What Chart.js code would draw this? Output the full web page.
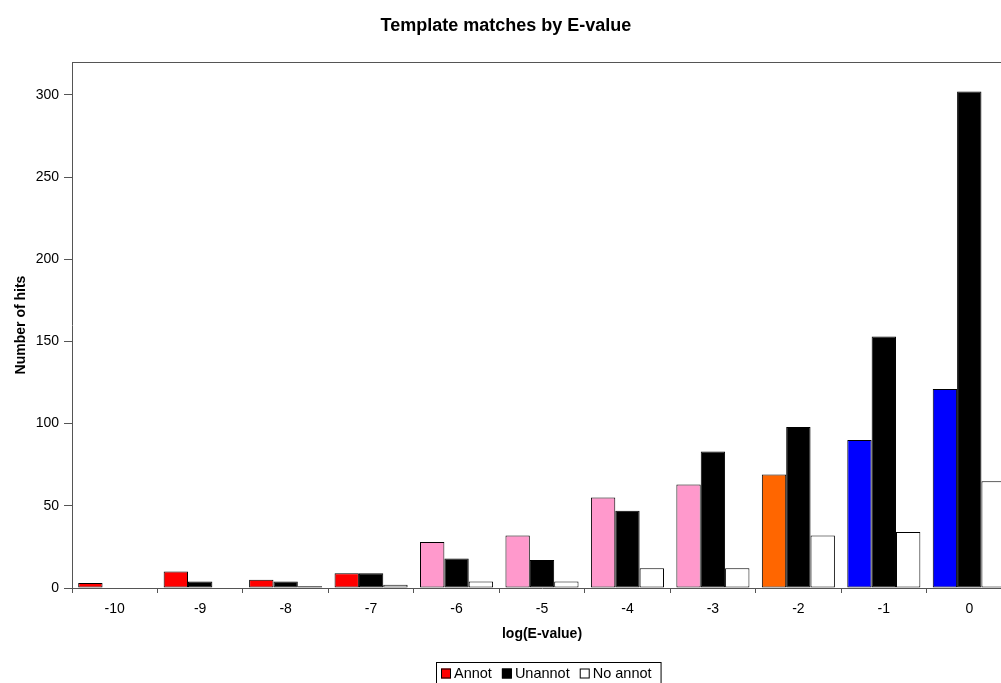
<!DOCTYPE html>
<html lang="en">
<head>
    <meta charset="UTF-8">
    <title>Template matches by E-value</title>
    <script src="https://cdn.jsdelivr.net/npm/chart.js"></script>
    <style>
        body {
            margin: 0;
            padding: 0;
            background-color: #ffffff;
            overflow: hidden;
        }
        #wrap {
            width: 1012px;
            height: 683px;
        }
    </style>
</head>
<body>
<div id="wrap"><canvas id="hitsChart" width="1012" height="683"></canvas></div>
<script>
    // values
    const categories = ['-10', '-9', '-8', '-7', '-6', '-5', '-4', '-3', '-2', '-1', '0'];
    const annot = [3, 10, 5, 9, 28, 32, 55, 63, 69, 90, 121];
    const unannot = [0, 4, 4, 9, 18, 17, 47, 83, 98, 153, 302];
    const noAnnot = [0, 0, 1, 2, 4, 4, 12, 12, 32, 34, 65];
    const yTicks = [0, 50, 100, 150, 200, 250, 300];

    // Annot bars change colour by E-value band
    const annotColors = ['#ff0000', '#ff0000', '#ff0000', '#ff0000',
        '#ff99cc', '#ff99cc', '#ff99cc', '#ff99cc',
        '#ff6600', '#0000ff', '#0000ff'];

    const font = "'Liberation Sans', Arial, sans-serif";
    const axisColor = '#555555';

    // top border of the plot area + the boxed legend under the chart
    const frameAndLegend = {
        id: 'frameAndLegend',
        afterDraw(chart) {
            const ctx = chart.ctx;
            const area = chart.chartArea;
            ctx.save();
            ctx.strokeStyle = axisColor;
            ctx.lineWidth = 1;
            ctx.beginPath();
            ctx.moveTo(area.left, area.top + 0.5);
            ctx.lineTo(area.right, area.top + 0.5);
            ctx.stroke();

            ctx.font = '14.5px ' + font;
            const items = chart.data.datasets.map(ds => ({
                label: ds.label,
                color: Array.isArray(ds.backgroundColor) ? ds.backgroundColor[0] : ds.backgroundColor,
                w: ctx.measureText(ds.label).width
            }));
            const sq = 10, gap = 3, between = 10, padL = 5, padR = 9;
            let total = padL + padR;
            items.forEach((it, i) => { total += sq + gap + it.w + (i ? between : 0); });
            const left = Math.round((area.left + area.right) / 2 - total / 2 + 6);
            const top = 662, h = 21;
            ctx.strokeStyle = '#000';
            ctx.strokeRect(left + 0.5, top + 0.5, total, h);
            let x = left + padL;
            const mid = top + h / 2 + 1;
            ctx.textBaseline = 'middle';
            items.forEach(it => {
                ctx.fillStyle = it.color;
                ctx.fillRect(x, mid - sq / 2, sq, sq);
                ctx.strokeStyle = '#000';
                ctx.strokeRect(x + 0.5, mid - sq / 2 + 0.5, sq - 1, sq - 1);
                ctx.fillStyle = '#000';
                ctx.fillText(it.label, x + sq + gap, mid);
                x += sq + gap + it.w + between;
            });
            ctx.restore();
        }
    };

    const ctx = document.getElementById('hitsChart').getContext('2d');
    const chart = new Chart(ctx, {
        type: 'bar',
        data: {
            labels: categories,
            datasets: [{
                label: 'Annot',
                data: annot,
                backgroundColor: annotColors
            }, {
                label: 'Unannot',
                data: unannot,
                backgroundColor: '#000000'
            }, {
                label: 'No annot',
                data: noAnnot,
                backgroundColor: '#ffffff'
            }]
        },
        options: {
            responsive: false,
            animation: false,
            layout: { padding: 0 },
            datasets: {
                bar: {
                    categoryPercentage: 0.855,
                    barPercentage: 1,
                    borderColor: '#000000',
                    borderWidth: c => (c.raw ? 1 : 0),
                    borderSkipped: false
                }
            },
            plugins: {
                legend: { display: false },
                tooltip: { enabled: false },
                title: {
                    display: true,
                    text: 'Template matches by E-value',
                    color: '#000',
                    font: { family: font, size: 18, weight: 'bold' },
                    padding: { top: 15, bottom: 25.4 }
                }
            },
            scales: {
                x: {
                    offset: true,
                    grid: {
                        offset: true,
                        drawOnChartArea: false,
                        drawTicks: true,
                        tickLength: 5,
                        color: axisColor
                    },
                    border: { display: true, color: axisColor },
                    ticks: {
                        color: '#000',
                        font: { family: font, size: 14 },
                        padding: 8,
                        maxRotation: 0
                    },
                    title: {
                        display: true,
                        text: 'log(E-value)',
                        color: '#000',
                        font: { family: font, size: 14, weight: 'bold' },
                        padding: { top: 0, bottom: 40 }
                    },
                    afterFit(scale) { scale.height = 95; }
                },
                y: {
                    min: 0,
                    max: 320,
                    grid: {
                        drawOnChartArea: false,
                        drawTicks: true,
                        tickLength: 8,
                        color: axisColor
                    },
                    border: { display: true, color: axisColor },
                    ticks: {
                        color: '#000',
                        font: { family: font, size: 14 },
                        padding: 5,
                        stepSize: 50
                    },
                    afterBuildTicks(scale) {
                        scale.ticks = yTicks.map(v => ({ value: v }));
                    },
                    title: {
                        display: true,
                        text: 'Number of hits',
                        color: '#000',
                        font: { family: font, size: 14, weight: 'bold' },
                        padding: { top: 13, bottom: 0 }
                    },
                    afterFit(scale) { scale.width = 72; }
                }
            }
        },
        plugins: [frameAndLegend]
    });
</script>
</body>
</html>
